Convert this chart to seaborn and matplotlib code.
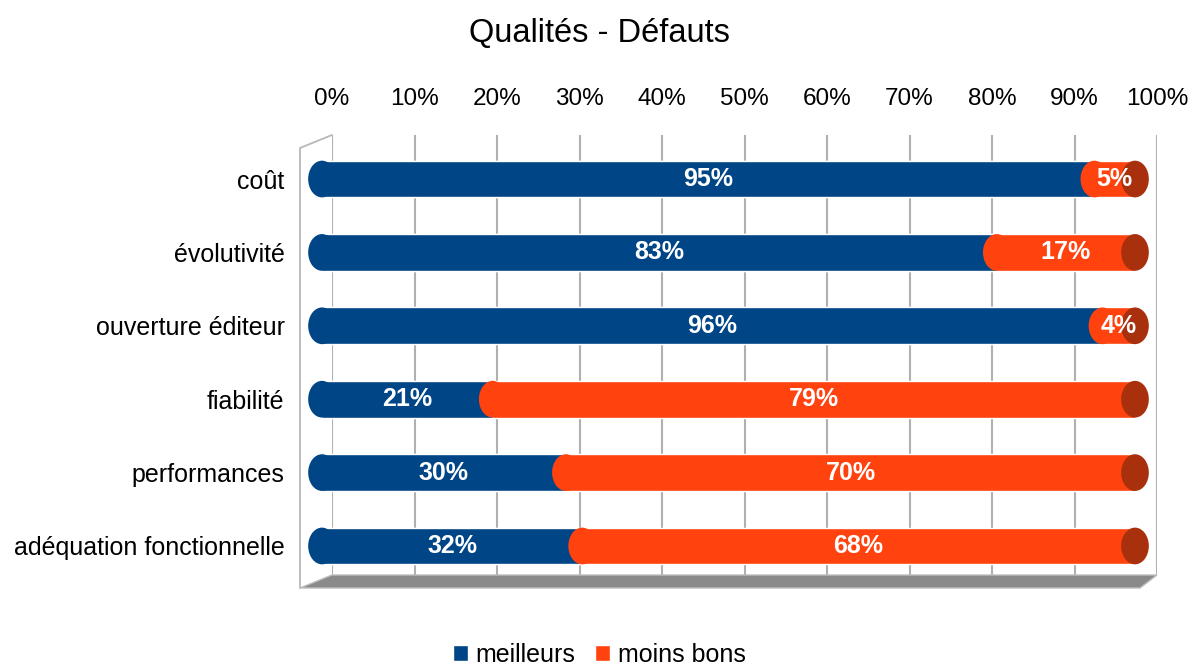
import pandas as pd
import matplotlib.pyplot as plt
import seaborn as sns
from matplotlib.patches import Ellipse, Polygon, Patch
from matplotlib.lines import Line2D

categories = ['coût', 'évolutivité', 'ouverture éditeur', 'fiabilité',
              'performances', 'adéquation fonctionnelle']
meilleurs = [95, 83, 96, 21, 30, 32]
moins_bons = [5, 17, 4, 79, 70, 68]
series_names = ['meilleurs', 'moins bons']
ticks = [0, 10, 20, 30, 40, 50, 60, 70, 80, 90, 100]

blue = '#004586'
orange = '#ff420e'
cap = '#a8300c'

df = pd.DataFrame({'cat': categories, 'meilleurs': meilleurs, 'moins_bons': moins_bons})
df['total'] = df['meilleurs'] + df['moins_bons']

sns.set_style('white')
plt.rcParams['font.family'] = ['Liberation Sans', 'DejaVu Sans']
plt.rcParams['text.color'] = 'black'
plt.rcParams['xtick.color'] = 'black'
plt.rcParams['ytick.color'] = 'black'

W, H = 1198, 666
fig = plt.figure(figsize=(W / 100, H / 100), dpi=100)

# back wall: grid + percent ticks at top
ax_back = fig.add_axes([332 / W, 1 - 575 / H, 825 / W, 440 / H])
ax_back.set_xlim(0, 100)
ax_back.set_ylim(0, 1)
ax_back.set_xticks(ticks)
ax_back.set_xticklabels([f'{t}%' for t in ticks], fontsize=17.5)
ax_back.set_yticks([])
ax_back.xaxis.tick_top()
ax_back.tick_params(axis='x', length=0, pad=18)
ax_back.grid(axis='x', color='#b0b0b0', linewidth=1.5)
for s in ax_back.spines.values():
    s.set_visible(False)

# floor and left wall
fig.patches.append(Polygon([(300 / W, 1 - 588 / H), (1140 / W, 1 - 588 / H),
                            (1157 / W, 1 - 575 / H), (332 / W, 1 - 575 / H)],
                           closed=True, transform=fig.transFigure,
                           facecolor='#8a8a8a', edgecolor='#bdbdbd', lw=1))
fig.lines.append(Line2D([300 / W, 300 / W, 332 / W], [1 - 588 / H, 1 - 148 / H, 1 - 135 / H],
                        transform=fig.transFigure, color='#b8b8b8', lw=1.3))

# front plane: the bars
ax = fig.add_axes([322 / W, 1 - 590 / H, 813 / W, 455 / H])
ax.patch.set_alpha(0)
sns.barplot(data=df, x='total', y='cat', color=orange, width=0.5, saturation=1, ax=ax)
sns.barplot(data=df, x='meilleurs', y='cat', color=blue, width=0.5, saturation=1, ax=ax)
ax.set_xlim(0, 100)
ax.set_ylim(5.6, -0.6)
ax.set_xticks([])
ax.set_xlabel('')
ax.set_ylabel('')
ax.tick_params(axis='y', length=0, pad=27, labelsize=18)
for s in ax.spines.values():
    s.set_visible(False)

ew = 3.4
for i, row in df.iterrows():
    ax.add_patch(Ellipse((0, i), ew, 0.5, facecolor=blue, edgecolor='none', clip_on=False, zorder=1))
    ax.add_patch(Ellipse((row['meilleurs'], i), ew, 0.5, facecolor=orange, edgecolor='none',
                         clip_on=False, zorder=3))
    ax.add_patch(Ellipse((row['total'], i), ew, 0.5, facecolor=cap, edgecolor='none',
                         clip_on=False, zorder=3))
    ax.text(row['meilleurs'] / 2, i, f"{row['meilleurs']}%", color='white', fontsize=18,
            fontweight='bold', ha='center', va='center', zorder=5)
    ax.text(row['meilleurs'] + row['moins_bons'] / 2, i, f"{row['moins_bons']}%", color='white',
            fontsize=18, fontweight='bold', ha='center', va='center', zorder=5)

fig.suptitle('Qualités - Défauts', fontsize=23.5, y=1 - 33 / H, va='center')

handles = [Patch(facecolor=blue), Patch(facecolor=orange)]
fig.legend(handles, series_names, loc='center', bbox_to_anchor=(0.5, 1 - 655 / H), ncol=2,
           frameon=False, fontsize=18, handlelength=0.6, handleheight=0.6,
           handletextpad=0.3, columnspacing=0.8)

fig.savefig('out.png', dpi=100)
